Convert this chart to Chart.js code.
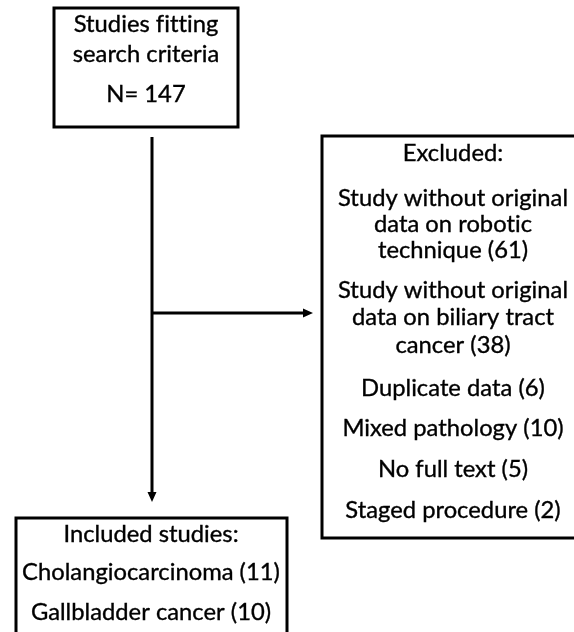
<!DOCTYPE html>
<html>
<head>
<meta charset="utf-8">
<script src="https://cdn.jsdelivr.net/npm/chart.js@4.4.0/dist/chart.umd.min.js"></script>
<style>
  html, body { margin: 0; padding: 0; background: #fff; }
  #wrap { width: 574px; height: 632px; }
</style>
</head>
<body>
<div id="wrap"><canvas id="flow"></canvas></div>
<script>
// flow diagram content
const searchTitle = ["Studies fitting", "search criteria"];
const totalFound = 147;
const excludedReasons = [
  ["Study without original", "data on robotic", "technique"],
  ["Study without original", "data on biliary tract", "cancer"],
  ["Duplicate data"],
  ["Mixed pathology"],
  ["No full text"],
  ["Staged procedure"],
];
const excludedCounts = [61, 38, 6, 10, 5, 2];
const includedTypes = ["Cholangiocarcinoma", "Gallbladder cancer"];
const includedCounts = [11, 10];

// box geometry, in the 574 x 632 value space of the hidden axes
const layout = {
  search: { x0: 54, x1: 238, y0: 8, y1: 127, cx: 146, baselines: [32, 62, 102] },
  excluded: { x0: 322, x1: 590, y0: 136, y1: 538, cx: 453,
    baselines: [161, 206, 232, 258, 298, 325, 353, 396, 436, 477, 518] },
  included: { x0: 16, x1: 287, y0: 518, y1: 660, cx: 151, baselines: [542, 580, 620] },
  trunk: { x: 152, top: 137, tip: 502 },
  branch: { y: 313, tip: 313 },
};

const searchLines = [...searchTitle, "N= " + totalFound];
const excludedLines = ["Excluded:"];
excludedReasons.forEach((lines, i) => {
  lines.forEach((l, j) => {
    excludedLines.push(j === lines.length - 1 ? l + " (" + excludedCounts[i] + ")" : l);
  });
});
const includedLines = ["Included studies:", ...includedTypes.map((t, i) => t + " (" + includedCounts[i] + ")")];

const FONT = "Lato";
const FONT_SIZE = 22.5;
const TARGET_W = 230; // width of "Study without original" in the reference

const flowPlugin = {
  id: "flow",
  afterDraw(chart) {
    const ctx = chart.ctx;
    const sx = chart.scales.x, sy = chart.scales.y;
    const px = (v) => sx.getPixelForValue(v);
    const py = (v) => sy.getPixelForValue(v);

    ctx.save();
    ctx.letterSpacing = "0.01px"; // keeps "fi" / "ti" from turning into ligatures
    ctx.font = FONT_SIZE + "px " + FONT;
    const squeeze = TARGET_W / ctx.measureText("Study without original").width;
    ctx.strokeStyle = "#000";
    ctx.fillStyle = "#000";

    const box = (b, lines) => {
      ctx.lineWidth = 3;
      ctx.strokeRect(px(b.x0), py(b.y0), px(b.x1) - px(b.x0), py(b.y1) - py(b.y0));
      ctx.textAlign = "center";
      ctx.textBaseline = "alphabetic";
      ctx.lineWidth = 0.35;
      lines.forEach((l, i) => {
        ctx.save();
        ctx.translate(px(b.cx), py(b.baselines[i]));
        ctx.scale(squeeze, 1);
        ctx.fillText(l, 0, 0);
        ctx.strokeText(l, 0, 0);
        ctx.restore();
      });
    };
    box(layout.search, searchLines);
    box(layout.excluded, excludedLines);
    box(layout.included, includedLines);

    // connectors
    const t = layout.trunk, br = layout.branch;
    ctx.lineWidth = 3;
    ctx.beginPath();
    ctx.moveTo(px(t.x), py(t.top));
    ctx.lineTo(px(t.x), py(t.tip) - 6);
    ctx.moveTo(px(t.x), py(br.y));
    ctx.lineTo(px(br.tip) - 6, py(br.y));
    ctx.stroke();

    // arrow heads
    ctx.beginPath();
    ctx.moveTo(px(t.x), py(t.tip));
    ctx.lineTo(px(t.x) - 4.5, py(t.tip) - 10);
    ctx.lineTo(px(t.x) + 4.5, py(t.tip) - 10);
    ctx.closePath();
    ctx.moveTo(px(br.tip), py(br.y));
    ctx.lineTo(px(br.tip) - 10, py(br.y) - 4.5);
    ctx.lineTo(px(br.tip) - 10, py(br.y) + 4.5);
    ctx.closePath();
    ctx.fill();
    ctx.restore();
  },
};

new Chart(document.getElementById("flow"), {
  type: "scatter",
  data: { datasets: [{ data: [], pointRadius: 0 }] },
  options: {
    responsive: true,
    maintainAspectRatio: false,
    animation: false,
    layout: { padding: 0 },
    plugins: { legend: { display: false }, tooltip: { enabled: false } },
    scales: {
      x: { type: "linear", min: 0, max: 574, display: false },
      y: { type: "linear", min: 0, max: 632, reverse: true, display: false },
    },
  },
  plugins: [flowPlugin],
});
</script>
</body>
</html>
